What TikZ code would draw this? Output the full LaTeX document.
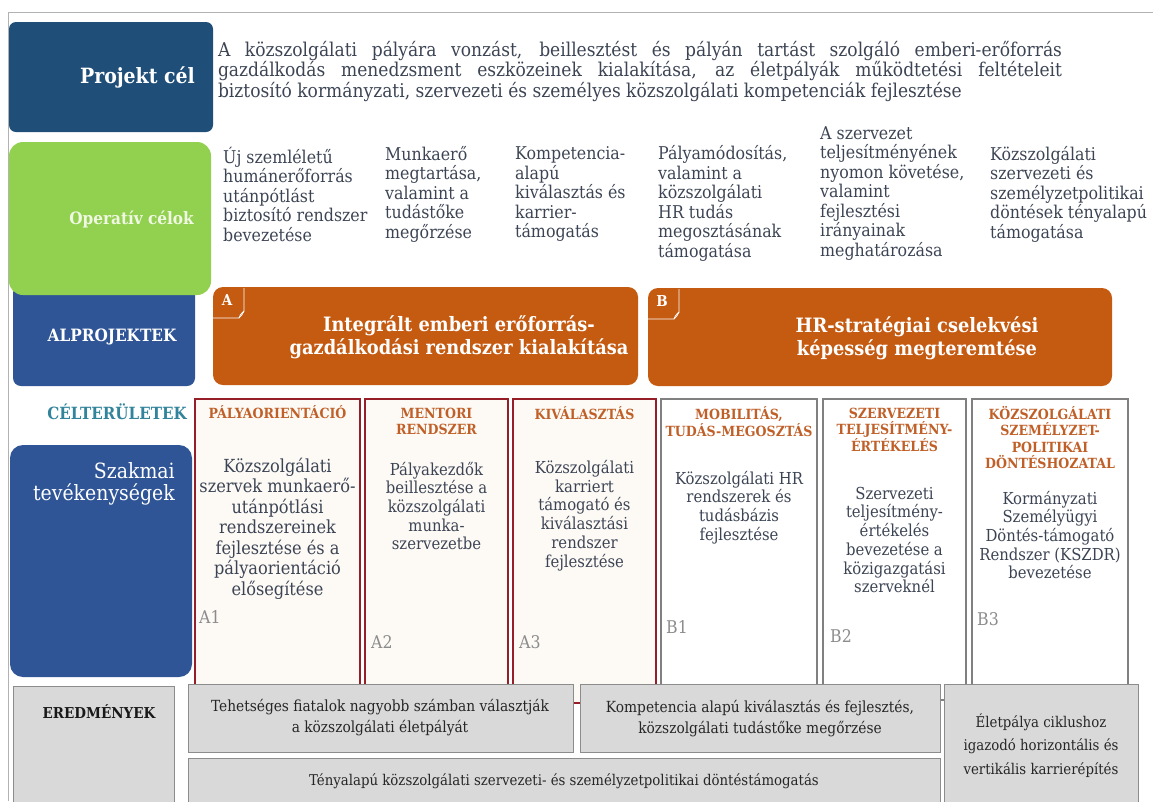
\documentclass[tikz,border=0pt]{standalone}
\usepackage{fontspec}
\setmainfont{DejaVu Serif Condensed}
\usetikzlibrary{positioning}

\definecolor{projblue}{RGB}{31,78,121}
\definecolor{opgreen}{RGB}{146,208,80}
\definecolor{subblue}{RGB}{47,85,151}
\definecolor{suborange}{RGB}{197,90,17}
\definecolor{areateal}{RGB}{49,132,155}
\definecolor{headorange}{RGB}{192,96,40}
\definecolor{aframe}{RGB}{150,30,40}
\definecolor{afill}{RGB}{253,250,246}
\definecolor{bframe}{RGB}{128,128,128}
\definecolor{resfill}{RGB}{217,217,217}
\definecolor{resframe}{RGB}{140,140,140}
\definecolor{bodytext}{RGB}{60,68,84}
\definecolor{codegray}{RGB}{140,140,140}
\definecolor{palegreen}{RGB}{240,248,228}

\newcommand{\fsz}[2]{\fontsize{#1}{#2}\selectfont}

\tikzset{
  box/.style={anchor=north west, inner sep=0pt, outer sep=0pt},
  panel/.style={box, rounded corners=#1},
  goal/.style={anchor=west, align=left, inner sep=0pt, text=bodytext, font=\fsz{17.6}{19.5}},
  areaA/.style={box, draw=aframe, fill=afill, line width=1.5pt, minimum height=304},
  areaB/.style={box, draw=bframe, fill=white, line width=1.3pt, minimum height=301},
  areahead/.style={align=center, inner sep=0pt, text=headorange, font=\bfseries\fsz{14}{16.5}},
  areatext/.style={align=center, inner sep=0pt, text=bodytext, font=\fsz{16.5}{18.7}},
  code/.style={anchor=west, inner sep=0pt, text=codegray, font=\fsz{17.5}{20}},
  result/.style={box, draw=resframe, fill=resfill, line width=1pt},
  restext/.style={align=center, inner sep=0pt, text=black!85, font=\fsz{15.3}{21}},
  tabline/.style={white, line width=0.8pt}
}

\begin{document}
\begin{tikzpicture}[x=1pt,y=-1pt]
\useasboundingbox (0,0) rectangle (1153,801);
\draw[gray!60, line width=1pt] (8,801) -- (8,12) -- (1153,12);

% left hand labels
\node[panel=7pt, fill=projblue, minimum width=204, minimum height=110] (projbox) at (9,22) {};
\node[panel=8pt, fill=subblue, minimum width=182, minimum height=101] (alpbox) at (13,285) {};
\node[panel=14pt, fill=opgreen, minimum width=202, minimum height=153] (opbox) at (9,142) {};
\node[panel=13pt, fill=subblue, minimum width=182, minimum height=232] (szakbox) at (10,445) {};

\node[anchor=east, inner sep=0pt, text=white, font=\bfseries\fsz{21}{25}] (projlbl) at (195,77) {Projekt cél};
\node[anchor=east, inner sep=0pt, text=palegreen, font=\bfseries\fsz{17}{20}] (oplbl) at (194,219) {Operatív célok};
\node[inner sep=0pt, text=white, font=\bfseries\fsz{17}{20}] (alplbl) at (112,337) {ALPROJEKTEK};
\node[inner sep=0pt, text=areateal, font=\bfseries\fsz{16.8}{20}] (cellbl) at (117,412) {CÉLTERÜLETEK};
\node[anchor=east, align=right, inner sep=0pt, text=white, font=\fsz{21}{22.5}] (szaklbl) at (175,484) {Szakmai\\tevékenységek};

% projekt cel
\node[align=left, inner sep=0pt, text=bodytext, font=\fsz{19}{18.5}] (projtxt) at (640,71.5) {%
\makebox[844pt][s]{A közszolgálati pályára vonzást, beillesztést és pályán tartást szolgáló emberi-erőforrás}\\
\makebox[844pt][s]{gazdálkodás menedzsment eszközeinek kialakítása, az életpályák működtetési feltételeit}\\
biztosító kormányzati, szervezeti és személyes közszolgálati kompetenciák fejlesztése};

% operativ celok
\node[goal] (goal1) at (223,194) {Új szemléletű\\humánerőforrás\\utánpótlást\\biztosító rendszer\\bevezetése};
\node[goal] (goal2) at (385,194) {Munkaerő\\megtartása,\\valamint a\\tudástőke\\megőrzése};
\node[goal] (goal3) at (515,194) {Kompetencia-\\alapú\\kiválasztás és\\karrier-\\támogatás};
\node[goal] (goal4) at (658,203.5) {Pályamódosítás,\\valamint a\\közszolgálati\\HR tudás\\megosztásának\\támogatása};
\node[goal] (goal5) at (820,193.5) {A szervezet\\teljesítményének\\nyomon követése,\\valamint\\fejlesztési\\irányainak\\meghatározása};
\node[goal] (goal6) at (990,194) {Közszolgálati\\szervezeti és\\személyzetpolitikai\\döntések tényalapú\\támogatása};

% alprojektek
\node[panel=10pt, fill=suborange, minimum width=425, minimum height=98] (subA) at (213,287) {};
\node[panel=10pt, fill=suborange, minimum width=464, minimum height=98] (subB) at (648,288) {};
\draw[tabline] (244,288) -- (244,311) .. controls (243,314) and (241,316) .. (239,318) -- (213,318);
\draw[tabline] (239,318) .. controls (240,315) .. (244,311);
\draw[tabline] (679,289) -- (679,312) .. controls (678,315) and (676,317) .. (674,319) -- (648,319);
\draw[tabline] (674,319) .. controls (675,316) .. (679,312);
\node[inner sep=0pt, text=white, font=\bfseries\fsz{15}{18}] (tabA) at (227,300) {A};
\node[inner sep=0pt, text=white, font=\bfseries\fsz{15}{18}] (tabB) at (662,301) {B};
\node[align=center, inner sep=0pt, text=white, font=\bfseries\fsz{19.8}{23}] (titleA) at (459,337) {Integrált emberi erőforrás-\\gazdálkodási rendszer kialakítása};
\node[align=center, inner sep=0pt, text=white, font=\bfseries\fsz{19.8}{23}] (titleB) at (917,338) {HR-stratégiai cselekvési\\képesség megteremtése};

% celteruletek
\node[areaA, minimum width=165] (areaA1) at (195,399) {};
\node[areaA, minimum width=143] (areaA2) at (365,399) {};
\node[areaA, minimum width=143] (areaA3) at (513,399) {};
\node[areaB, minimum width=156] (areaB1) at (661,399) {};
\node[areaB, minimum width=143] (areaB2) at (823,399) {};
\node[areaB, minimum width=156] (areaB3) at (972,399) {};

\node[areahead] (headA1) at (277.5,412) {PÁLYAORIENTÁCIÓ};
\node[areahead] (headA2) at (436.5,421.5) {MENTORI\\RENDSZER};
\node[areahead] (headA3) at (584.5,413) {KIVÁLASZTÁS};
\node[areahead] (headB1) at (739,421.5) {MOBILITÁS,\\TUDÁS-MEGOSZTÁS};
\node[areahead] (headB2) at (894.5,429.5) {SZERVEZETI\\TELJESÍTMÉNY-\\ÉRTÉKELÉS};
\node[areahead] (headB3) at (1050,437.5) {KÖZSZOLGÁLATI\\SZEMÉLYZET-\\POLITIKAI\\DÖNTÉSHOZATAL};

\node[areatext, font=\fsz{18}{20.5}] (textA1) at (277.5,528.5) {Közszolgálati\\szervek munkaerő-\\utánpótlási\\rendszereinek\\fejlesztése és a\\pályaorientáció\\elősegítése};
\node[areatext] (textA2) at (436.5,506) {Pályakezdők\\beillesztése a\\közszolgálati\\munka-\\szervezetbe};
\node[areatext] (textA3) at (584.5,515.5) {Közszolgálati\\karriert\\támogató és\\kiválasztási\\rendszer\\fejlesztése};
\node[areatext] (textB1) at (739,507.5) {Közszolgálati HR\\rendszerek és\\tudásbázis\\fejlesztése};
\node[areatext] (textB2) at (894.5,540) {Szervezeti\\teljesítmény-\\értékelés\\bevezetése a\\közigazgatási\\szerveknél};
\node[areatext] (textB3) at (1050,535) {Kormányzati\\Személyügyi\\Döntés-támogató\\Rendszer (KSZDR)\\bevezetése};

\node[code] (codeA1) at (199,617) {A1};
\node[code] (codeA2) at (371,642) {A2};
\node[code] (codeA3) at (519,642) {A3};
\node[code] (codeB1) at (666,627) {B1};
\node[code] (codeB2) at (830,636) {B2};
\node[code] (codeB3) at (977,619) {B3};

% eredmenyek
\node[result, minimum width=161, minimum height=130] (resbox) at (13,686) {};
\node[result, minimum width=385, minimum height=68] (res1) at (188,684) {};
\node[result, minimum width=360, minimum height=68] (res2) at (580,684) {};
\node[result, minimum width=194, minimum height=130] (res3) at (944,684) {};
\node[result, minimum width=752, minimum height=60] (res4) at (188,758) {};

\node[inner sep=0pt, text=black!90, font=\bfseries\fsz{15}{18}] (reslbl) at (99,712) {EREDMÉNYEK};
\node[restext] (restext1) at (380,717.5) {Tehetséges fiatalok nagyobb számban választják\\a közszolgálati életpályát};
\node[restext] (restext2) at (760,718.5) {Kompetencia alapú kiválasztás és fejlesztés,\\közszolgálati tudástőke megőrzése};
\node[restext, font=\fsz{14.8}{23.5}] (restext3) at (1041,745.5) {Életpálya ciklushoz\\igazodó horizontális és\\vertikális karrierépítés};
\node[restext, font=\fsz{14.8}{21}] (restext4) at (564,781) {Tényalapú közszolgálati szervezeti- és személyzetpolitikai döntéstámogatás};
\end{tikzpicture}
\end{document}
